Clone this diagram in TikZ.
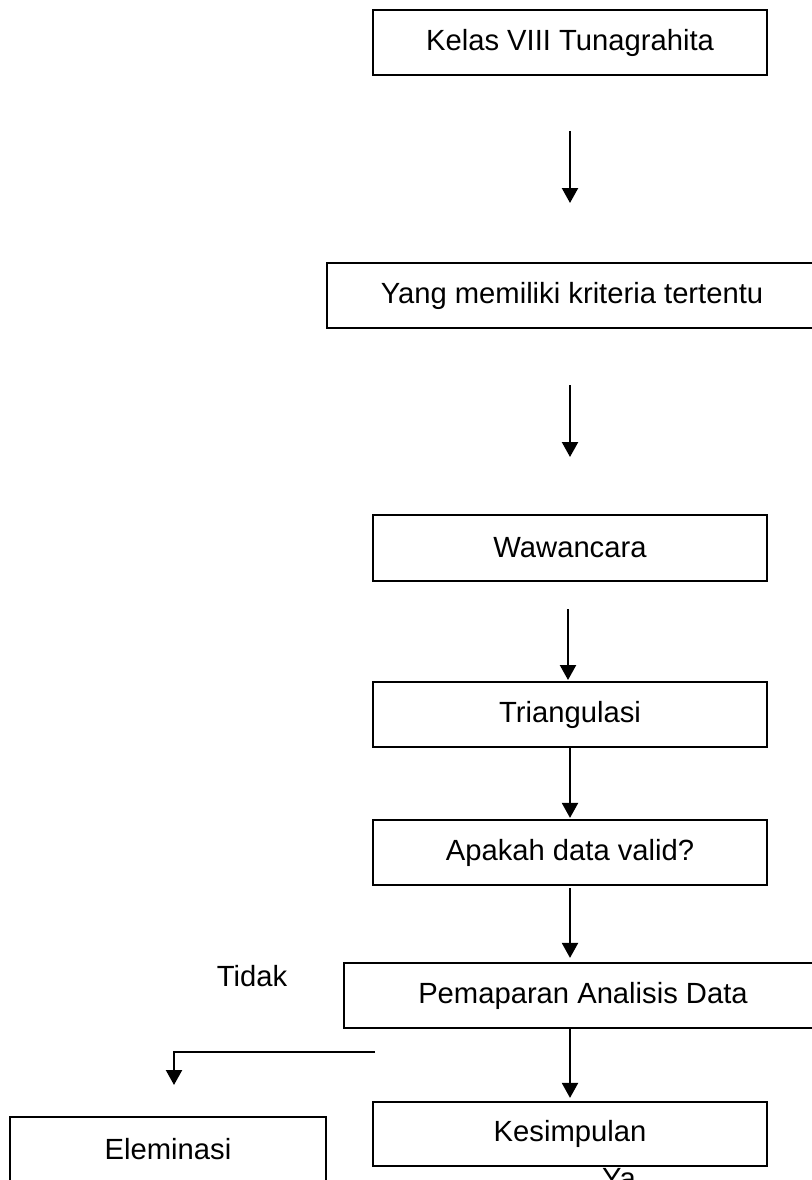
\documentclass[tikz,border=0pt]{standalone}
\usepackage{fontspec}
\setmainfont{Liberation Sans}
\usetikzlibrary{arrows.meta}
\begin{document}
\begin{tikzpicture}[x=1pt,y=-1pt,
  every node/.style={font=\fontsize{29.2}{35}\selectfont},
  box/.style={draw=black,line width=2.2pt,inner sep=0pt,minimum height=65pt},
  arr/.style={line width=2.2pt,-{Triangle[width=16pt,length=15pt]}},
  lbl/.style={inner sep=0pt,anchor=base}]
\useasboundingbox (0,0) rectangle (811,1180);
\node[box,minimum width=394pt] (k1) at (570,42.5) {Kelas VIII Tunagrahita};
\node[box,minimum width=490pt] (k2) at (572,295.5) {Yang memiliki kriteria tertentu};
\node[box,minimum width=394pt,minimum height=66pt] (k3) at (570,548) {Wawancara};
\node[box,minimum width=394pt] (k4) at (570,714.5) {Triangulasi};
\node[box,minimum width=394pt] (k5) at (570,852.5) {Apakah data valid?};
\node[box,minimum width=478pt] (k6) at (583,995.5) {Pemaparan Analisis Data};
\node[box,minimum width=394pt,minimum height=64pt] (k7) at (570,1134) {Kesimpulan};
\node[box,minimum width=316pt] (k8) at (168,1149.5) {Eleminasi};
\node[lbl] (tidak) at (252,986) {Tidak};
\node[lbl] (ya) at (619,1188) {Ya};
\coordinate (a1s) at (570,131);
\coordinate (a1e) at (570,203);
\coordinate (a2s) at (570,385);
\coordinate (a2e) at (570,457);
\coordinate (a3s) at (568,609);
\coordinate (a3e) at (568,680);
\coordinate (es) at (375,1052);
\coordinate (ec) at (174,1052);
\coordinate (ee) at (174,1085);
\draw[arr] (a1s) -- (a1e);
\draw[arr] (a2s) -- (a2e);
\draw[arr] (a3s) -- (a3e);
\draw[arr,shorten >=1pt] (k4.south) -- (k5.north);
\draw[arr,shorten <=2pt,shorten >=4pt] (k5.south) -- (k5.south |- k6.north);
\draw[arr,shorten >=3pt] (k6.south -| k5.south) -- (k7.north);
\draw[arr] (es) -- (ec) -- (ee);
\end{tikzpicture}
\end{document}
